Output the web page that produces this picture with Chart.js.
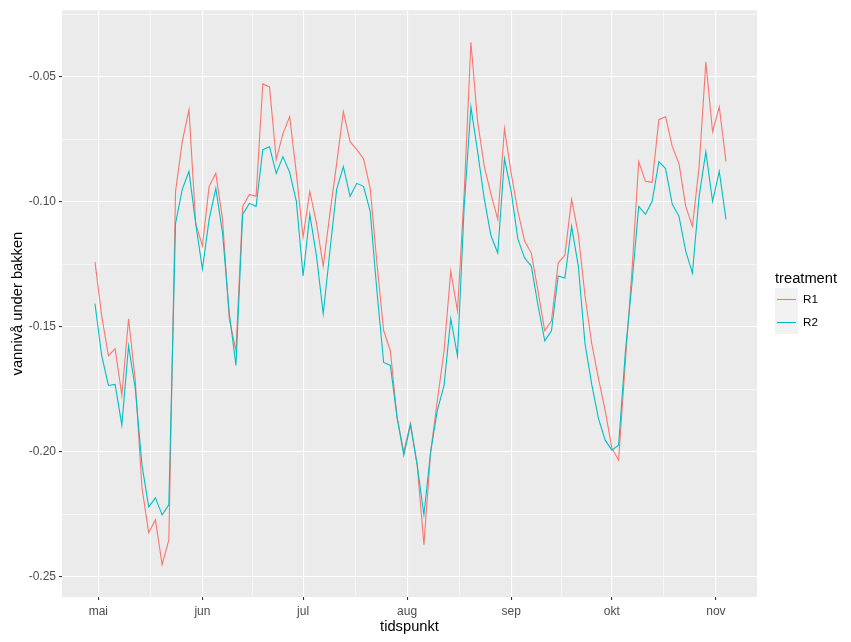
<!DOCTYPE html>
<html>
<head>
<meta charset="utf-8">
<script src="https://cdn.jsdelivr.net/npm/chart.js@4/dist/chart.umd.min.js"></script>
<style>
  html, body { margin: 0; padding: 0; background: #fff; }
  #wrap { width: 851px; height: 642px; position: relative; }
</style>
</head>
<body>
<div id="wrap"><canvas id="waterChart" width="851" height="642"></canvas></div>
<script>
// === Data (days counted from 1 May) ===
const dayIndex = [-1, 1, 3, 5, 7, 9, 11, 13, 15, 17, 19, 21, 23, 25, 27, 29, 31, 33, 35, 37,
  39, 41, 43, 45, 47, 49, 51, 53, 55, 57, 59, 61, 63, 65, 67, 69, 71, 73, 75, 77,
  79, 81, 83, 85, 87, 89, 91, 93, 95, 97, 99, 101, 103, 105, 107, 109, 111, 113, 115, 117,
  119, 121, 123, 125, 127, 129, 131, 133, 135, 137, 139, 141, 143, 145, 147, 149, 151, 153, 155, 157,
  159, 161, 163, 165, 167, 169, 171, 173, 175, 177, 179, 181, 183, 185, 187];

const r1Values = [-0.1241, -0.1456, -0.1616, -0.1588, -0.1775, -0.1468, -0.1715, -0.2145, -0.2325, -0.2273,
  -0.2452, -0.2353, -0.0958, -0.0759, -0.0631, -0.1086, -0.1177, -0.0938, -0.0886, -0.1070,
  -0.1468, -0.1596, -0.1018, -0.0970, -0.0978, -0.0528, -0.0540, -0.0831, -0.0727, -0.0659,
  -0.0886, -0.1141, -0.0958, -0.1086, -0.1257, -0.1046, -0.0847, -0.0639, -0.0759, -0.0791,
  -0.0827, -0.0946, -0.1245, -0.1516, -0.1596, -0.1863, -0.2002, -0.1886, -0.2054, -0.2372,
  -0.2002, -0.1795, -0.1596, -0.1277, -0.1436, -0.0966, -0.0361, -0.0679, -0.0859, -0.0970,
  -0.1070, -0.0707, -0.0886, -0.1038, -0.1157, -0.1205, -0.1357, -0.1516, -0.1476, -0.1245,
  -0.1213, -0.0990, -0.1129, -0.1376, -0.1568, -0.1707, -0.1835, -0.1986, -0.2034, -0.1643,
  -0.1273, -0.0839, -0.0918, -0.0922, -0.0671, -0.0659, -0.0779, -0.0847, -0.1018, -0.1098,
  -0.0859, -0.0440, -0.0719, -0.0620, -0.0839];

const r2Values = [-0.1408, -0.1616, -0.1735, -0.1731, -0.1894, -0.1576, -0.1747, -0.2054, -0.2221, -0.2185,
  -0.2253, -0.2213, -0.1086, -0.0950, -0.0878, -0.1086, -0.1269, -0.1070, -0.0946, -0.1125,
  -0.1444, -0.1655, -0.1050, -0.1006, -0.1018, -0.0791, -0.0779, -0.0886, -0.0819, -0.0882,
  -0.0998, -0.1297, -0.1050, -0.1217, -0.1448, -0.1197, -0.0950, -0.0859, -0.0978, -0.0926,
  -0.0938, -0.1038, -0.1357, -0.1643, -0.1655, -0.1863, -0.2014, -0.1894, -0.2054, -0.2253,
  -0.2002, -0.1835, -0.1735, -0.1468, -0.1616, -0.1018, -0.0620, -0.0799, -0.0990, -0.1137,
  -0.1205, -0.0827, -0.0958, -0.1149, -0.1225, -0.1257, -0.1416, -0.1556, -0.1516, -0.1297,
  -0.1305, -0.1098, -0.1257, -0.1568, -0.1731, -0.1867, -0.1954, -0.1994, -0.1974, -0.1604,
  -0.1325, -0.1018, -0.1050, -0.0998, -0.0839, -0.0867, -0.1010, -0.1058, -0.1197, -0.1285,
  -0.0978, -0.0799, -0.0998, -0.0878, -0.1070];

// === Axis ticks ===
const monthDays = [0, 31, 61, 92, 123, 153, 184];
const monthLabels = ["mai", "jun", "jul", "aug", "sep", "okt", "nov"];
const monthMinor = [15.5, 46, 76.5, 107.5, 138, 168.5];
const yMajor = [-0.25, -0.2, -0.15, -0.1, -0.05];
const yMinor = [-0.225, -0.175, -0.125, -0.075, -0.025];

const seriesNames = ["R1", "R2"];
const seriesColors = ["#F8766D", "#00BFC4"];

const FONT = '"Liberation Sans", Arial, sans-serif';

function isMajor(list, v) {
  return list.some((m) => Math.abs(m - v) < 1e-6);
}

function toPoints(values) {
  return values.map((v, i) => ({ x: dayIndex[i], y: v }));
}

// === Panel background, titles and legend ===
const ggPlugin = {
  id: "ggLook",
  beforeDraw(chart) {
    const { ctx, chartArea: a } = chart;
    ctx.save();
    ctx.fillStyle = "#EBEBEB";
    ctx.fillRect(a.left, a.top, a.right - a.left, a.bottom - a.top);
    ctx.restore();
  },
  afterDraw(chart) {
    const { ctx, chartArea: a } = chart;
    ctx.save();
    ctx.fillStyle = "#000";
    ctx.font = "14.7px " + FONT;
    ctx.textAlign = "center";
    ctx.textBaseline = "middle";
    ctx.fillText("tidspunkt", (a.left + a.right) / 2, 627);

    ctx.save();
    ctx.translate(18, (a.top + a.bottom) / 2);
    ctx.rotate(-Math.PI / 2);
    ctx.fillText("vannivå under bakken", 0, 0);
    ctx.restore();

    // legend
    ctx.textAlign = "left";
    ctx.fillText("treatment", 775, 279);
    ctx.font = "11.7px " + FONT;
    seriesNames.forEach((name, i) => {
      const top = 288 + i * 23;
      ctx.fillStyle = "#F2F2F2";
      ctx.fillRect(775, top, 23, 23);
      ctx.strokeStyle = seriesColors[i];
      ctx.lineWidth = 1.1;
      ctx.beginPath();
      ctx.moveTo(777, top + 11.5);
      ctx.lineTo(796, top + 11.5);
      ctx.stroke();
      ctx.fillStyle = "#000";
      ctx.fillText(name, 803, top + 12);
    });
    ctx.restore();
  },
};

// === Chart ===
function renderChart() {
  new Chart(document.getElementById("waterChart"), {
    type: "line",
    data: {
      datasets: [
        {
          label: seriesNames[0],
          data: toPoints(r1Values),
          borderColor: seriesColors[0],
          borderWidth: 1.1,
          pointRadius: 0,
          tension: 0,
          order: 1,
        },
        {
          label: seriesNames[1],
          data: toPoints(r2Values),
          borderColor: seriesColors[1],
          borderWidth: 1.1,
          pointRadius: 0,
          tension: 0,
          order: 0,
        },
      ],
    },
    options: {
      responsive: false,
      animation: false,
      layout: { padding: { left: 0, top: 8, right: 94, bottom: 0 } },
      plugins: { legend: { display: false }, tooltip: { enabled: false } },
      scales: {
        x: {
          type: "linear",
          min: -10.83,
          max: 196.24,
          afterFit: (scale) => { scale.height = 45; },
          afterBuildTicks: (scale) => {
            scale.ticks = monthDays.concat(monthMinor).sort((a, b) => a - b).map((v) => ({ value: v }));
          },
          border: { display: false },
          grid: {
            color: "#FFFFFF",
            lineWidth: (c) => (c.tick && isMajor(monthDays, c.tick.value) ? 1.1 : 0.55),
            tickLength: 3,
            tickColor: (c) => (c.tick && isMajor(monthDays, c.tick.value) ? "#333333" : "rgba(0,0,0,0)"),
          },
          ticks: {
            autoSkip: false,
            maxRotation: 0,
            padding: 4,
            color: "#4D4D4D",
            font: { family: FONT, size: 12 },
            callback: (v) => {
              const i = monthDays.findIndex((m) => Math.abs(m - v) < 1e-6);
              return i >= 0 ? monthLabels[i] : "";
            },
          },
        },
        y: {
          type: "linear",
          min: -0.25818,
          max: -0.02328,
          afterFit: (scale) => { scale.width = 62; },
          afterBuildTicks: (scale) => {
            scale.ticks = yMajor.concat(yMinor).sort((a, b) => a - b).map((v) => ({ value: v }));
          },
          border: { display: false },
          grid: {
            color: "#FFFFFF",
            lineWidth: (c) => (c.tick && isMajor(yMajor, c.tick.value) ? 1.1 : 0.55),
            tickLength: 3,
            tickColor: (c) => (c.tick && isMajor(yMajor, c.tick.value) ? "#333333" : "rgba(0,0,0,0)"),
          },
          ticks: {
            autoSkip: false,
            padding: 3,
            color: "#4D4D4D",
            font: { family: FONT, size: 12 },
            callback: (v) => (isMajor(yMajor, v) ? v.toFixed(2) : ""),
          },
        },
      },
    },
    plugins: [ggPlugin],
  });
}

renderChart();
</script>
</body>
</html>
